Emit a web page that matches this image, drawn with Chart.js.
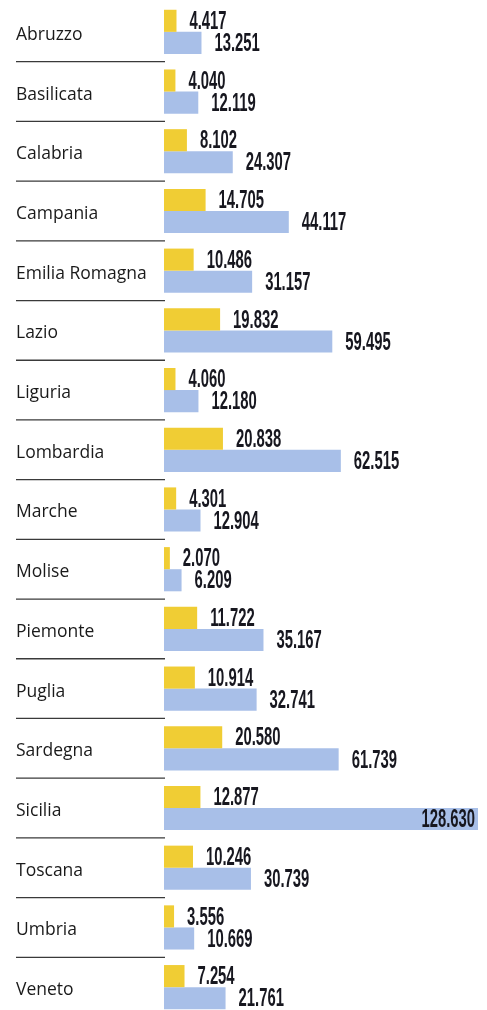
<!DOCTYPE html>
<html lang="it">
<head>
<meta charset="utf-8">
<script src="https://cdn.jsdelivr.net/npm/chart.js@4"></script>
<style>
html,body{margin:0;padding:0;background:#fff;overflow:hidden;}
#wrap{width:487px;height:1017px;}
</style>
</head>
<body>
<div id="wrap"><canvas id="c" width="487" height="1017"></canvas></div>
<script>
const regions = ["Abruzzo","Basilicata","Calabria","Campania","Emilia Romagna","Lazio","Liguria","Lombardia","Marche","Molise","Piemonte","Puglia","Sardegna","Sicilia","Toscana","Umbria","Veneto"];
const yellowValues = [4417,4040,8102,14705,10486,19832,4060,20838,4301,2070,11722,10914,20580,12877,10246,3556,7254];
const blueValues = [13251,12119,24307,44117,31157,59495,12180,62515,12904,6209,35167,32741,61739,128630,30739,10669,21761];
const axisMax = 111000;

function fmt(v){ return String(v).replace(/\B(?=(\d{3})+(?!\d))/g, "."); }

const categoryText = {
  id:'categoryText',
  afterDraw(chart){
    const ctx = chart.ctx, y = chart.scales.y;
    ctx.save();
    ctx.fillStyle = '#1a1a1a';
    ctx.font = '17.5px "Open Sans", sans-serif';
    ctx.textBaseline = 'middle';
    ctx.textAlign = 'left';
    chart.data.labels.forEach((lab, i) => {
      ctx.fillText(lab, 16, y.getPixelForValue(i) + 3);
    });
    ctx.strokeStyle = '#3a3a3a';
    ctx.lineWidth = 1.3;
    for(let i=0;i<regions.length-1;i++){
      const yy = (y.getPixelForValue(i)+y.getPixelForValue(i+1))/2;
      ctx.beginPath();
      ctx.moveTo(16, yy);
      ctx.lineTo(165, yy);
      ctx.stroke();
    }
    ctx.restore();
  }
};

const valueLabels = {
  id:'valueLabels',
  afterDatasetsDraw(chart){
    const ctx = chart.ctx, area = chart.chartArea;
    ctx.save();
    ctx.fillStyle = '#17171f';
    ctx.font = 'bold 26px "Liberation Sans", Arial, sans-serif';
    ctx.textBaseline = 'middle';
    const sx = 0.57;
    chart.data.datasets.forEach((ds, di) => {
      const meta = chart.getDatasetMeta(di);
      meta.data.forEach((bar, i) => {
        const v = ds.data[i];
        const txt = fmt(v);
        const w = ctx.measureText(txt).width * sx;
        let x = bar.x + 13;
        if (bar.x >= area.right - 1) x = area.right - 3 - w;
        ctx.save();
        ctx.translate(x, bar.y + 1);
        ctx.scale(sx, 1);
        ctx.textAlign = 'left';
        ctx.fillText(txt, 0, 0);
        ctx.restore();
      });
    });
    ctx.restore();
  }
};

new Chart(document.getElementById('c'), {
  type:'bar',
  data:{
    labels: regions,
    datasets:[
      {data: yellowValues, backgroundColor:'#f0cd34', barPercentage:1, categoryPercentage:0.74},
      {data: blueValues, backgroundColor:'#a8bfe8', barPercentage:1, categoryPercentage:0.74}
    ]
  },
  options:{
    indexAxis:'y',
    responsive:false,
    animation:false,
    devicePixelRatio:1,
    layout:{padding:{left:16,right:9,top:2,bottom:0}},
    plugins:{legend:{display:false},tooltip:{enabled:false}},
    scales:{
      x:{display:false,min:0,max:axisMax},
      y:{
        grid:{display:false},
        border:{display:false},
        ticks:{display:false},
        afterFit(scale){ scale.width = 148; scale.paddingTop = 0; scale.paddingBottom = 0; }
      }
    }
  },
  plugins:[categoryText, valueLabels]
});
</script>
</body>
</html>
